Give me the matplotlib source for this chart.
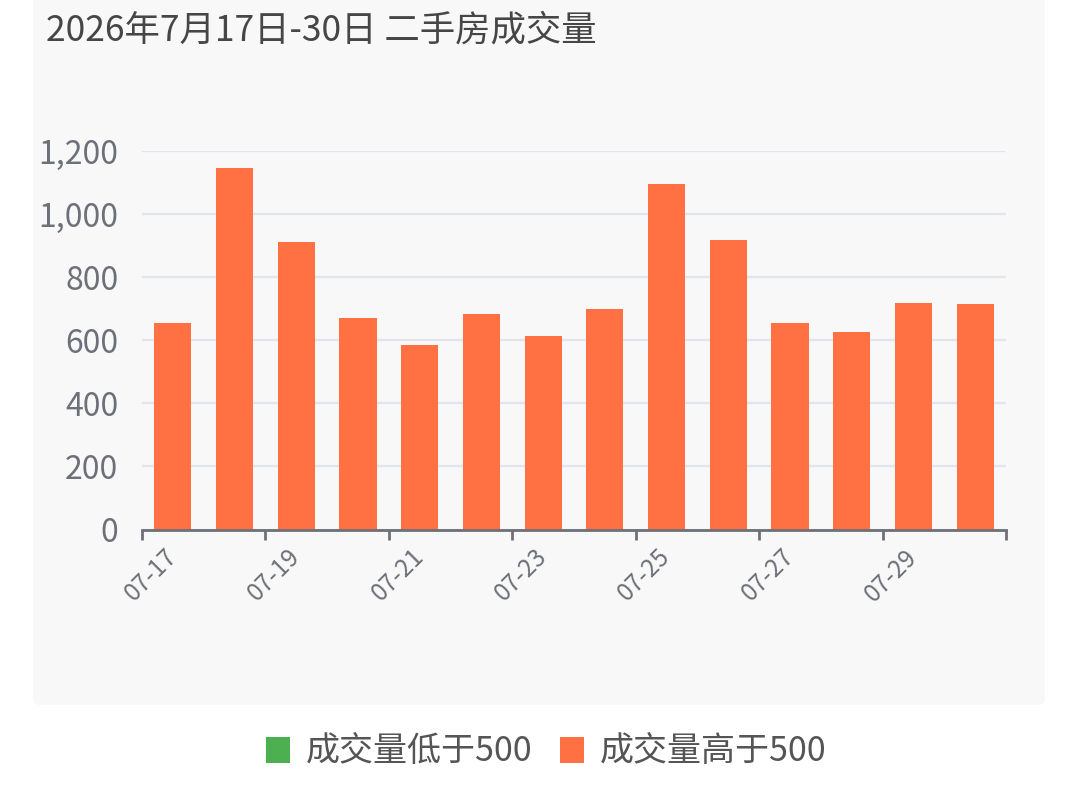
import numpy as np
import matplotlib
matplotlib.use('Agg')
import matplotlib.pyplot as plt
from matplotlib.patches import FancyBboxPatch, Patch
from matplotlib.ticker import FuncFormatter

plt.rcParams['font.family'] = ['Noto Sans CJK SC', 'DejaVu Sans']

# ---------- data ----------
dates = ['07-17', '07-18', '07-19', '07-20', '07-21', '07-22', '07-23',
         '07-24', '07-25', '07-26', '07-27', '07-28', '07-29', '07-30']
volumes = [655, 1145, 913, 671, 586, 683, 615, 699, 1094, 918, 654, 625, 719, 715]
threshold = 500
title = '2026年7月17日-30日 二手房成交量'
legend_low = '成交量低于500'
legend_high = '成交量高于500'

# ---------- style ----------
c_low = '#4caf50'
c_high = '#ff7043'
c_axis = '#6e7079'
c_grid = '#e2e5ee'
c_text = '#464646'

fig = plt.figure(figsize=(10.8, 7.91), dpi=100)
fig.patch.set_facecolor('white')

# light grey card behind the chart
card = FancyBboxPatch((33 / 1080, 1 - 705 / 791), (1045 - 33) / 1080, 705 / 791 + 0.02,
                      boxstyle='round,pad=0,rounding_size=0.008',
                      transform=fig.transFigure, facecolor='#f8f8f8',
                      edgecolor='none', zorder=-10)
fig.patches.append(card)

ax = fig.add_axes([142 / 1080, 1 - 529.5 / 791, (1006 - 142) / 1080, (529.5 - 151) / 791])
ax.set_facecolor('none')

x = np.arange(len(dates))
colors = [c_low if v < threshold else c_high for v in volumes]
ax.bar(x, volumes, width=0.6, color=colors, zorder=3)

ax.set_xlim(-0.5, len(dates) - 0.5)
ax.set_ylim(0, 1200)
ax.set_yticks(np.arange(0, 1201, 200))
ax.yaxis.set_major_formatter(FuncFormatter(lambda v, p: f'{int(v):,}'))
ax.grid(axis='y', color=c_grid, linewidth=1.6, zorder=0)

for s in ['top', 'right', 'left']:
    ax.spines[s].set_visible(False)
ax.spines['bottom'].set_color(c_axis)
ax.spines['bottom'].set_linewidth(2)
ax.spines['bottom'].set_zorder(4)

# ticks on category boundaries, labels on every other category
ax.set_xticks(np.arange(-0.5, len(dates), 2))
ax.set_xticklabels([])
ax.tick_params(axis='x', which='major', length=7, width=2, color=c_axis)
ax.set_xticks(x[::2], minor=True)
ax.set_xticklabels(dates[::2], minor=True, rotation=45, ha='right', va='center',
                   rotation_mode='anchor', fontsize=17.5, color=c_axis)
ax.tick_params(axis='x', which='minor', length=0, pad=17)
ax.tick_params(axis='y', length=0, pad=17, labelsize=23, labelcolor=c_axis)

fig.text(46 / 1080, 1 - 31 / 791, title, fontsize=25.5, color=c_text, va='center', ha='left')

handles = [Patch(facecolor=c_low, edgecolor='none'), Patch(facecolor=c_high, edgecolor='none')]
leg = fig.legend(handles, [legend_low, legend_high], loc='center',
                 bbox_to_anchor=(0.5055, 1 - 752 / 791),
                 ncol=2, frameon=False, fontsize=24.5, handlelength=0.72, handleheight=0.8,
                 handletextpad=0.45, columnspacing=0.8, labelcolor='#555555')

fig.savefig('out.png', dpi=100, facecolor='white')
